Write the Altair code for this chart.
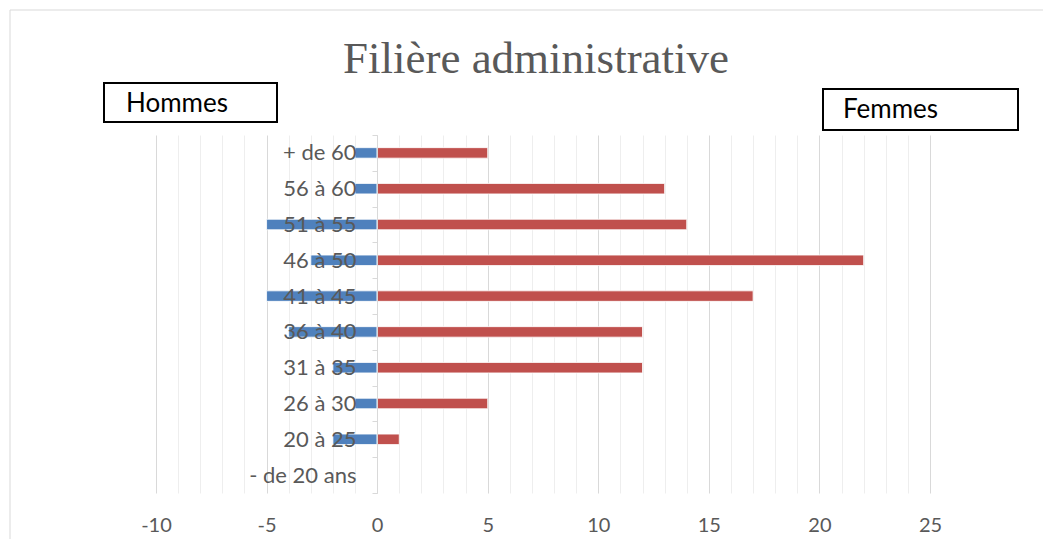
import altair as alt
import pandas as pd

categories = ["+ de 60", "56 à 60", "51 à 55", "46 à 50", "41 à 45",
              "36 à 40", "31 à 35", "26 à 30", "20 à 25", "- de 20 ans"]
hommes = [-1, -1, -5, -3, -5, -4, -2, -1, -2, 0]
femmes = [5, 13, 14, 22, 17, 12, 12, 5, 1, 0]
x_ticks = list(range(-10, 26))
title_text = "Filière administrative"
series_names = ["Hommes", "Femmes"]
series_colors = ["#4f81bd", "#c0504d"]

df = pd.DataFrame({
    "age": categories * 2,
    "sexe": [series_names[0]] * len(categories) + [series_names[1]] * len(categories),
    "valeur": hommes + femmes,
})
one = pd.DataFrame({"k": [0]})

W, H = 774, 358

bars = alt.Chart(df).mark_bar(size=10.5, stroke="white", strokeWidth=0.8).encode(
    x=alt.X("valeur:Q",
            scale=alt.Scale(domain=[-10, 25], nice=False, zero=False),
            axis=alt.Axis(values=x_ticks, grid=True,
                          gridColor={"condition": {"test": "datum.value % 5 === 0", "value": "#d9d9d9"},
                                     "value": "#eeeeee"},
                          gridWidth=1, domain=False, ticks=False,
                          labelExpr="datum.value % 5 === 0 ? '' + datum.value : ''",
                          labelFont="Lato", labelFontSize=20, labelColor="#595959",
                          labelPadding=22, labelOverlap=False, labelFlush=False, title=None)),
    y=alt.Y("age:N", sort=categories,
            scale=alt.Scale(paddingInner=0, paddingOuter=0),
            axis=alt.Axis(offset=-221, zindex=1, domainColor="#d9d9d9", tickColor="#d9d9d9",
                          tickSize=5, tickBand="extent", labelFont="Lato", labelFontSize=22,
                          labelColor="#595959", labelPadding=16, title=None)),
    color=alt.Color("sexe:N", scale=alt.Scale(domain=series_names, range=series_colors), legend=None),
)

frame = alt.Chart(one).mark_rect(stroke="#d9d9d9", strokeWidth=1, fillOpacity=0).encode(
    x=alt.value(-146), x2=alt.value(950), y=alt.value(-125), y2=alt.value(460))

title = alt.Chart(one).mark_text(text=title_text, font="Liberation Serif", fontSize=45,
                                 color="#595959", align="center", baseline="alphabetic").encode(
    x=alt.value(380), y=alt.value(-62))

hom_box = alt.Chart(one).mark_rect(stroke="black", strokeWidth=2, fillOpacity=0).encode(
    x=alt.value(-52), x2=alt.value(121), y=alt.value(-52), y2=alt.value(-13))
hom_txt = alt.Chart(one).mark_text(text=series_names[0], font="Lato", fontSize=26, color="black",
                                   align="left", baseline="alphabetic").encode(
    x=alt.value(-30), y=alt.value(-23))

fem_box = alt.Chart(one).mark_rect(stroke="black", strokeWidth=2, fillOpacity=0).encode(
    x=alt.value(667), x2=alt.value(862), y=alt.value(-46), y2=alt.value(-5))
fem_txt = alt.Chart(one).mark_text(text=series_names[1], font="Lato", fontSize=26, color="black",
                                   align="left", baseline="alphabetic").encode(
    x=alt.value(687), y=alt.value(-17))

chart = alt.layer(frame, bars, title, hom_box, hom_txt, fem_box, fem_txt).properties(
    width=W, height=H,
    padding={"left": 148, "top": 127, "right": 113, "bottom": 46},
    autosize="none",
).configure_view(stroke=None)

chart.save("out.html", embed_options={"renderer": "svg", "actions": False})
